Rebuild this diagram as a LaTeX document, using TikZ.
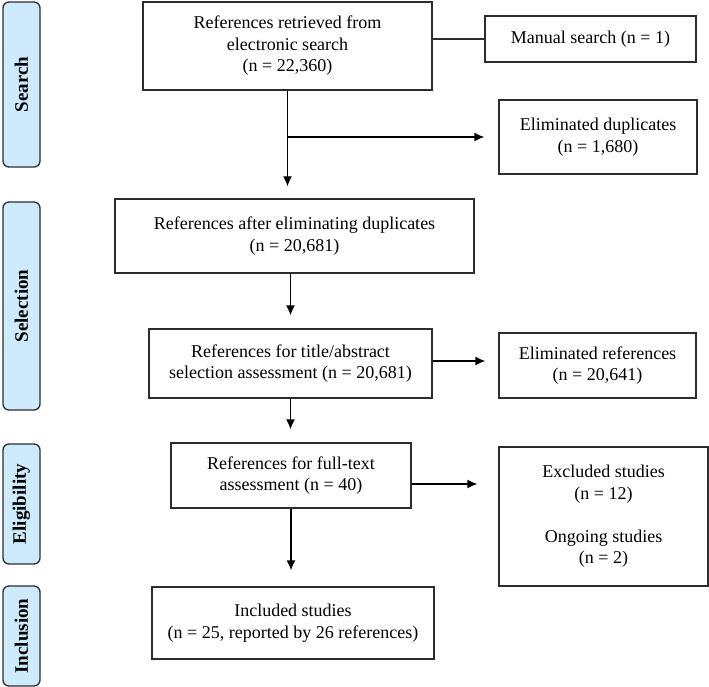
\documentclass[tikz,border=0pt]{standalone}
\usepackage{fontspec}
\setmainfont{Liberation Serif}
\usetikzlibrary{arrows.meta}
\definecolor{stageblue}{RGB}{205,235,252}
\definecolor{boxline}{RGB}{45,45,45}
\tikzset{
	box/.style={draw=boxline, line width=1.3pt, align=center, inner sep=0pt,
		font=\fontsize{18}{21.5}\selectfont},
	stage/.style={draw=boxline, fill=stageblue, rounded corners=6pt, line width=1.3pt,
		rotate=90, inner sep=0pt, minimum height=37pt,
		font=\fontsize{19}{22}\selectfont\bfseries},
	arr/.style={-{Latex[length=10pt,width=9pt]}, line width=1.3pt},
}
\begin{document}
\begin{tikzpicture}[x=1pt,y=-1pt]
		\useasboundingbox (0,0) rectangle (709,687);
		% stages on the left
			\foreach \name/\y/\h in {Search/84.5/165, Selection/306/208, Eligibility/504/120, Inclusion/636/100}{
				\node[stage, minimum width=\h pt] (stage-\name) at (21.5,\y) {\name};
				}
		% search
			\node[box, minimum width=289pt, minimum height=88pt] (retrieved) at (287.5,46)
				{References retrieved from\\electronic search\\(n = 22,360)};
			\node[box, minimum width=211pt, minimum height=46pt] (manual) at (590.5,39)
				{Manual search (n = 1)};
			\node[box, minimum width=198pt, minimum height=74pt] (duplicates) at (598,137)
				{Eliminated duplicates\\(n = 1,680)};
		% selection
			\node[box, minimum width=359pt, minimum height=74pt] (afterdup) at (294.5,236)
				{References after eliminating duplicates\\(n = 20,681)};
			\node[box, minimum width=283pt, minimum height=69pt] (titleabs) at (290.5,363.5)
				{References for title/abstract\\selection assessment (n = 20,681)};
			\node[box, minimum width=197pt, minimum height=65pt] (elimref) at (597.5,365.5)
				{Eliminated references\\(n = 20,641)};
		% eligibility
			\node[box, minimum width=240pt, minimum height=65pt] (fulltext) at (291,475.5)
				{References for full-text\\assessment (n = 40)};
			\node[box, minimum width=209pt, minimum height=139pt] (excluded) at (603.5,516.5)
				{Excluded studies\\(n = 12)\\[21.5pt]Ongoing studies\\(n = 2)};
		% inclusion
			\node[box, minimum width=282pt, minimum height=72pt] (included) at (293,623)
				{Included studies\\(n = 25, reported by 26 references)};
		% connectors
			\draw[line width=1.3pt, draw=boxline] (manual.west) -- (manual.west -| retrieved.east);
			\draw[arr, shorten >=12pt] (retrieved.south) -- (retrieved.south |- afterdup.north);
			\coordinate (split) at (retrieved.south |- duplicates.west);
			\draw[arr, shorten >=14pt] (split) -- (duplicates.west);
			\draw[arr, shorten >=13pt] (afterdup.south -| titleabs.north) -- (titleabs.north);
			\draw[arr, shorten >=13pt] ([yshift=2.5pt]titleabs.east) -- ([yshift=2.5pt]titleabs.east -| elimref.west);
			\draw[arr, shorten >=13pt] (titleabs.south) -- (titleabs.south |- fulltext.north);
			\draw[arr, shorten >=21pt] ([yshift=-8.5pt]fulltext.east) -- ([yshift=-8.5pt]fulltext.east -| excluded.west);
			\draw[arr, shorten >=16pt] (fulltext.south) -- (fulltext.south |- included.north);
	\end{tikzpicture}
\end{document}
